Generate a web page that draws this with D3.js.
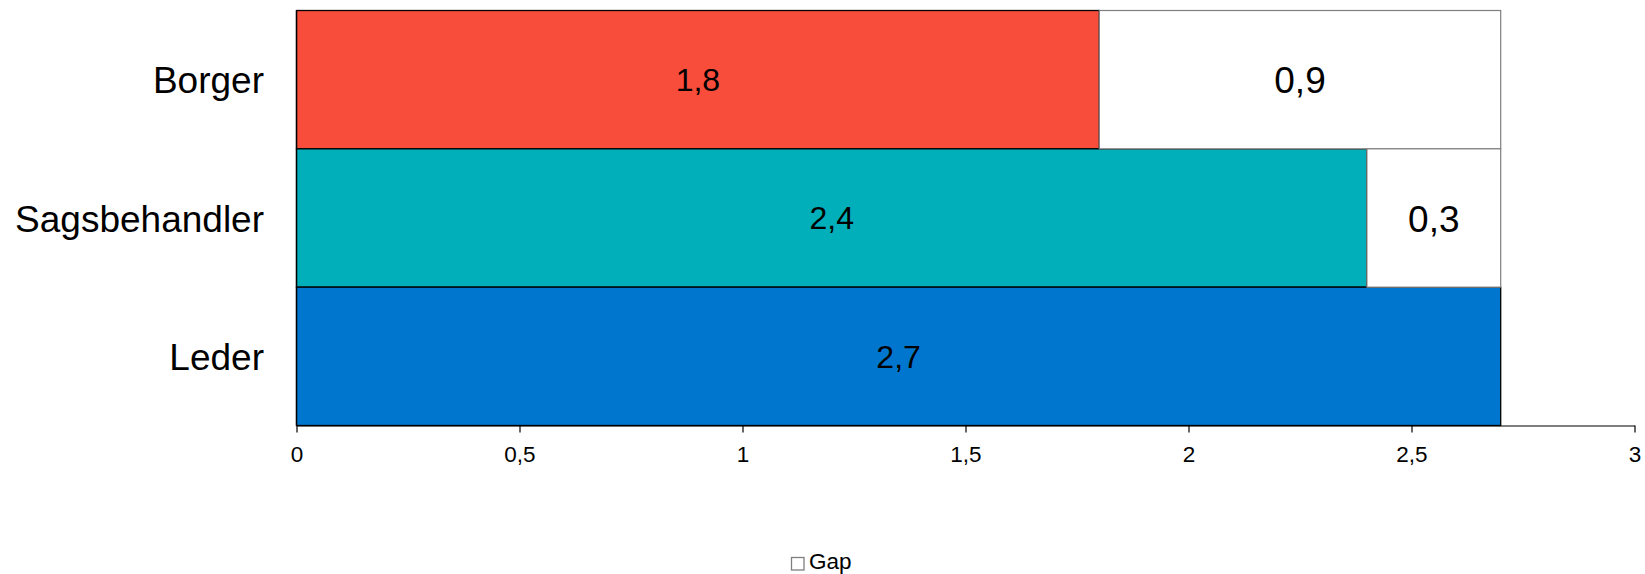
<!DOCTYPE html>
<html>
<head>
<meta charset="utf-8">
<script src="https://cdn.jsdelivr.net/npm/d3@7/dist/d3.min.js"></script>
<style>
  html, body { margin: 0; padding: 0; background: #fff; }
  svg { display: block; font-family: "Liberation Sans", Arial, sans-serif; }
</style>
</head>
<body>
<svg id="chart" width="1645" height="574"></svg>
<script>
// Roles shown top to bottom
const categories = ["Borger", "Sagsbehandler", "Leder"];
// Score per role
const values = [1.8, 2.4, 2.7];
// Distance up to the highest score
const gaps = [0.9, 0.3, 0];
const barColors = ["#F94D3C", "#00AFBA", "#0076CE"];
const xTicks = [0, 0.5, 1, 1.5, 2, 2.5, 3];
const legendLabels = ["Gap"];

const fmt = d => String(d).replace(".", ",");

const svg = d3.select("#chart");

const x = d3.scaleLinear().domain([0, 3]).range([296.5, 1634.5]);
const y = d3.scaleBand().domain(categories).range([10.5, 425.5]).padding(0);

const rows = categories.map((c, i) => ({ cat: c, value: values[i], gap: gaps[i], color: barColors[i] }));

// value bars
svg.append("g").selectAll("rect")
  .data(rows)
  .join("rect")
  .attr("x", x(0))
  .attr("y", d => y(d.cat))
  .attr("width", d => x(d.value) - x(0))
  .attr("height", y.bandwidth())
  .attr("fill", d => d.color)
  .attr("stroke", "#000")
  .attr("stroke-width", 1.3);

// gap bars stacked after each value bar
svg.append("g").selectAll("rect")
  .data(rows.filter(d => d.gap > 0))
  .join("rect")
  .attr("x", d => x(d.value))
  .attr("y", d => y(d.cat))
  .attr("width", d => x(d.value + d.gap) - x(d.value))
  .attr("height", y.bandwidth())
  .attr("fill", "#fff")
  .attr("stroke", "#7f7f7f")
  .attr("stroke-width", 1.2);

// value labels
svg.append("g").selectAll("text")
  .data(rows)
  .join("text")
  .attr("x", d => (x(0) + x(d.value)) / 2)
  .attr("y", d => y(d.cat) + y.bandwidth() / 2)
  .attr("dy", "0.35em")
  .attr("text-anchor", "middle")
  .attr("font-size", 32)
  .attr("fill", "#000")
  .text(d => fmt(d.value));

// gap labels
svg.append("g").selectAll("text")
  .data(rows.filter(d => d.gap > 0))
  .join("text")
  .attr("x", d => (x(d.value) + x(d.value + d.gap)) / 2)
  .attr("y", d => y(d.cat) + y.bandwidth() / 2)
  .attr("dy", "0.37em")
  .attr("text-anchor", "middle")
  .attr("font-size", 37)
  .attr("fill", "#000")
  .text(d => fmt(d.gap));

// category labels
svg.append("g").selectAll("text")
  .data(categories)
  .join("text")
  .attr("x", 264)
  .attr("y", d => y(d) + y.bandwidth() / 2)
  .attr("dy", "0.37em")
  .attr("text-anchor", "end")
  .attr("font-size", 37)
  .attr("fill", "#000")
  .text(d => d);

// left axis line
svg.append("line")
  .attr("x1", x(0)).attr("x2", x(0))
  .attr("y1", 10.5).attr("y2", 425.5)
  .attr("stroke", "#000").attr("stroke-width", 1.3);

// bottom axis
const xAxis = d3.axisBottom(x)
  .tickValues(xTicks)
  .tickFormat(fmt)
  .tickSize(7)
  .tickSizeOuter(0)
  .tickPadding(14);

const gx = svg.append("g")
  .attr("transform", "translate(0,425.5)")
  .call(xAxis);
gx.select(".domain").attr("stroke", "#000").attr("stroke-width", 1.2);
gx.selectAll(".tick line").attr("stroke", "#000").attr("stroke-width", 1.2);
gx.selectAll(".tick text")
  .attr("font-size", 22.5)
  .attr("font-family", "'Liberation Sans', Arial, sans-serif")
  .attr("fill", "#000");

// legend
const lg = svg.append("g").attr("transform", "translate(791,557)");
lg.selectAll("rect")
  .data(legendLabels)
  .join("rect")
  .attr("x", 0.5).attr("y", 0.5)
  .attr("width", 12.5).attr("height", 12.5)
  .attr("fill", "#fff")
  .attr("stroke", "#7f7f7f")
  .attr("stroke-width", 1.3);
lg.selectAll("text")
  .data(legendLabels)
  .join("text")
  .attr("x", 18)
  .attr("y", 11.5)
  .attr("font-size", 22.5)
  .attr("fill", "#000")
  .text(d => d);
</script>
</body>
</html>
